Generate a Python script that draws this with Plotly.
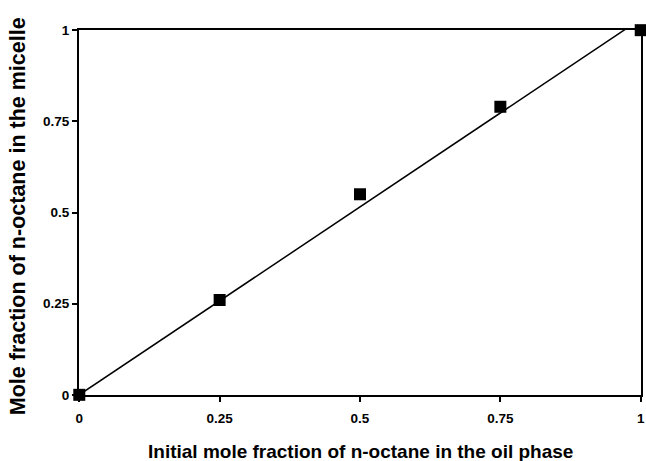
import plotly.graph_objects as go
import numpy as np

x_vals = [0, 0.25, 0.5, 0.75, 1.0]
y_vals = [0, 0.26, 0.55, 0.79, 1.0]
tick_vals = [0, 0.25, 0.5, 0.75, 1]
tick_text = ["0", "0.25", "0.5", "0.75", "1"]
x_title = "Initial mole fraction of n-octane in the oil phase"
y_title = "Mole fraction of n-octane in the micelle"

xa = np.array(x_vals)
ya = np.array(y_vals)
slope = float((xa * ya).sum() / (xa * xa).sum())  # trend line through origin
line_x = [0, 1.0]
line_y = [0, slope * 1.0]

fig = go.Figure()
fig.add_trace(go.Scatter(x=line_x, y=line_y, mode="lines",
                         line=dict(color="black", width=1.5), showlegend=False,
                         hoverinfo="skip"))
fig.add_trace(go.Scatter(x=x_vals, y=y_vals, mode="markers",
                         marker=dict(symbol="square", size=12, color="black"),
                         cliponaxis=False, showlegend=False))

font_b = dict(family="Liberation Sans, Arial, sans-serif", color="black")
bold_ticks = ["<b>%s</b>" % t for t in tick_text]
fig.update_layout(
    width=646, height=461,
    margin=dict(l=79, r=5, t=30, b=66),
    paper_bgcolor="white", plot_bgcolor="white",
    font=font_b,
    annotations=[
        dict(text="<b>%s</b>" % x_title, xref="paper", yref="paper",
             x=0.5, y=-0.155, xanchor="center", yanchor="middle",
             showarrow=False, font=dict(size=19, **font_b)),
        dict(text="<b>%s</b>" % y_title, xref="paper", yref="paper",
             x=-0.1085, y=0.49, xanchor="center", yanchor="middle",
             textangle=-90, showarrow=False, font=dict(size=21.5, **font_b)),
    ],
)
fig.update_xaxes(range=[-0.0005, 1.0005], tickvals=tick_vals, ticktext=bold_ticks,
                 showgrid=False, zeroline=False, automargin=False,
                 showline=True, linecolor="black", linewidth=2, mirror=True,
                 ticks="outside", ticklen=5, tickcolor="black", tickwidth=1.5,
                 ticklabelstandoff=5,
                 tickfont=dict(size=13.5, **font_b))
fig.update_yaxes(range=[-0.0005, 1.0005], tickvals=tick_vals, ticktext=bold_ticks,
                 showgrid=False, zeroline=False, automargin=False,
                 showline=True, linecolor="black", linewidth=2, mirror=True,
                 ticks="outside", ticklen=5, tickcolor="black", tickwidth=1.5,
                 ticklabelstandoff=0,
                 tickfont=dict(size=13.5, **font_b))
fig.write_html(
    "out.html",
    config={"displayModeBar": False},
    post_script="document.body.style.margin='0';document.body.style.overflow='hidden';",
)
